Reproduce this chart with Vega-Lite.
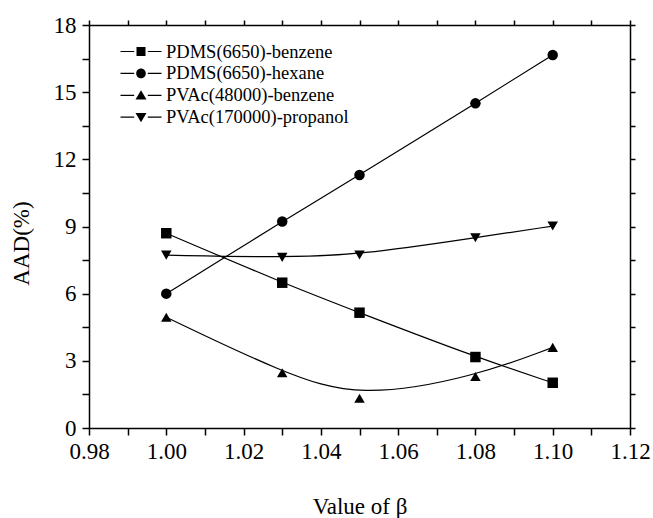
{
  "$schema": "https://vega.github.io/schema/vega-lite/v6.json",
  "autosize": {"type": "none"},
  "padding": {"left": 89, "top": 25, "right": 23, "bottom": 90},
  "width": 541,
  "height": 403,
  "config": {
    "view": {"stroke": null},
    "font": "Liberation Serif",
    "axis": {
      "grid": false,
      "domainColor": "black",
      "domainWidth": 1.5,
      "tickColor": "black",
      "tickWidth": 1.5,
      "labelColor": "black",
      "titleColor": "black",
      "labelFont": "Liberation Serif",
      "titleFont": "Liberation Serif",
      "labelFontSize": 23,
      "titleFontSize": 23,
      "titleFontWeight": "normal",
      "labelFlush": false,
      "labelOverlap": false
    },
    "legend": {
      "labelFont": "Liberation Serif",
      "labelFontSize": 18.5,
      "labelColor": "black",
      "labelLimit": 0
    }
  },
  "data": {
    "values": [
      {"series": "PDMS(6650)-benzene", "beta": 1.00, "aad": 8.70},
      {"series": "PDMS(6650)-benzene", "beta": 1.03, "aad": 6.49},
      {"series": "PDMS(6650)-benzene", "beta": 1.05, "aad": 5.15},
      {"series": "PDMS(6650)-benzene", "beta": 1.08, "aad": 3.17},
      {"series": "PDMS(6650)-benzene", "beta": 1.10, "aad": 2.02},
      {"series": "PDMS(6650)-hexane", "beta": 1.00, "aad": 6.00},
      {"series": "PDMS(6650)-hexane", "beta": 1.03, "aad": 9.22},
      {"series": "PDMS(6650)-hexane", "beta": 1.05, "aad": 11.30},
      {"series": "PDMS(6650)-hexane", "beta": 1.08, "aad": 14.50},
      {"series": "PDMS(6650)-hexane", "beta": 1.10, "aad": 16.66},
      {"series": "PVAc(48000)-benzene", "beta": 1.00, "aad": 4.95},
      {"series": "PVAc(48000)-benzene", "beta": 1.03, "aad": 2.47},
      {"series": "PVAc(48000)-benzene", "beta": 1.05, "aad": 1.33},
      {"series": "PVAc(48000)-benzene", "beta": 1.08, "aad": 2.30},
      {"series": "PVAc(48000)-benzene", "beta": 1.10, "aad": 3.60},
      {"series": "PVAc(170000)-propanol", "beta": 1.00, "aad": 7.72},
      {"series": "PVAc(170000)-propanol", "beta": 1.03, "aad": 7.62},
      {"series": "PVAc(170000)-propanol", "beta": 1.05, "aad": 7.73},
      {"series": "PVAc(170000)-propanol", "beta": 1.08, "aad": 8.50},
      {"series": "PVAc(170000)-propanol", "beta": 1.10, "aad": 9.02}
    ]
  },
  "resolve": {"axis": {"x": "independent", "y": "independent"}, "scale": {"shape": "independent"}},
  "layer": [
    {
      "mark": {"type": "line", "interpolate": "basis", "color": "black", "strokeWidth": 1.2},
      "encoding": {
        "x": {
          "field": "beta", "type": "quantitative",
          "scale": {"domain": [0.98, 1.12], "nice": false, "zero": false},
          "axis": {
            "orient": "bottom",
            "title": "Value of β",
            "titleBaseline": "alphabetic",
            "titleY": 85,
            "values": [0.98, 0.99, 1.0, 1.01, 1.02, 1.03, 1.04, 1.05, 1.06, 1.07, 1.08, 1.09, 1.1, 1.11, 1.12],
            "tickSize": 7,
            "labelPadding": 23,
            "labelBaseline": "alphabetic",
            "labelExpr": "round(datum.value*100) % 2 == 0 ? format(datum.value, '.2f') : ''",
            "encode": {"ticks": {"update": {"y2": {"signal": "round(datum.value*100) % 2 == 0 ? 7 : 4"}}}}
          }
        },
        "y": {
          "field": "aad", "type": "quantitative",
          "scale": {"domain": [0, 18], "nice": false},
          "axis": {
            "orient": "left",
            "title": "AAD(%)",
            "titleAngle": -90,
            "titleBaseline": "alphabetic",
            "titleX": -61,
            "titleY": 218,
            "values": [0, 1.5, 3, 4.5, 6, 7.5, 9, 10.5, 12, 13.5, 15, 16.5, 18],
            "tickSize": 7,
            "labelPadding": 6,
            "labelExpr": "datum.value % 3 == 0 ? format(datum.value, 'd') : ''",
            "encode": {"ticks": {"update": {"x2": {"signal": "datum.value % 3 == 0 ? -7 : -4"}}}}
          }
        },
        "detail": {"field": "series"}
      }
    },
    {
      "mark": {"type": "point", "filled": true, "color": "black", "opacity": 1, "size": 110},
      "encoding": {
        "x": {
          "field": "beta", "type": "quantitative",
          "axis": {
            "orient": "top", "title": null, "labels": false,
            "values": [0.98, 0.99, 1.0, 1.01, 1.02, 1.03, 1.04, 1.05, 1.06, 1.07, 1.08, 1.09, 1.1, 1.11, 1.12],
            "tickSize": 5,
            "encode": {"ticks": {"update": {"y2": {"value": 5}}}}
          }
        },
        "y": {
          "field": "aad", "type": "quantitative",
          "axis": {
            "orient": "right", "title": null, "labels": false,
            "values": [0, 1.5, 3, 4.5, 6, 7.5, 9, 10.5, 12, 13.5, 15, 16.5, 18],
            "tickSize": 5,
            "encode": {"ticks": {"update": {"x2": {"value": -5}}}}
          }
        },
        "shape": {
          "field": "series", "type": "nominal",
          "scale": {
            "domain": ["PDMS(6650)-benzene", "PDMS(6650)-hexane", "PVAc(48000)-benzene", "PVAc(170000)-propanol"],
            "range": ["square", "circle", "triangle-up", "triangle-down"]
          },
          "legend": null
        }
      }
    },
    {
      "mark": {"type": "point", "filled": true, "color": "black", "opacity": 0, "size": 400},
      "encoding": {
        "x": {"field": "beta", "type": "quantitative", "axis": null},
        "y": {"field": "aad", "type": "quantitative", "axis": null},
        "shape": {
          "field": "series", "type": "nominal",
          "scale": {
            "domain": ["PDMS(6650)-benzene", "PDMS(6650)-hexane", "PVAc(48000)-benzene", "PVAc(170000)-propanol"],
            "range": [
              "M-2.05,-0.06H-0.68V0.06H-2.05ZM0.68,-0.06H2.05V0.06H0.68ZM-0.45,-0.45H0.45V0.45H-0.45Z",
              "M-2.05,-0.06H-0.68V0.06H-2.05ZM0.68,-0.06H2.05V0.06H0.68ZM-0.48,0A0.48,0.48 0 1,0 0.48,0A0.48,0.48 0 1,0 -0.48,0Z",
              "M-2.05,-0.06H-0.68V0.06H-2.05ZM0.68,-0.06H2.05V0.06H0.68ZM0,-0.5L0.55,0.42L-0.55,0.42Z",
              "M-2.05,-0.06H-0.68V0.06H-2.05ZM0.68,-0.06H2.05V0.06H0.68ZM0,0.5L0.55,-0.42L-0.55,-0.42Z"
            ]
          },
          "legend": {
            "title": null,
            "orient": "none",
            "legendX": 41.5,
            "legendY": 16,
            "padding": 0,
            "symbolSize": 400,
            "labelOffset": 14.5,
            "rowPadding": 1.9,
            "symbolFillColor": "black",
            "symbolStrokeColor": "black",
            "symbolStrokeWidth": 0.6,
            "symbolOpacity": 1,
            "encode": {
              "symbols": {
                "update": {
                  "fill": {"value": "black"},
                  "stroke": {"value": "black"},
                  "strokeWidth": {"value": 0.6},
                  "opacity": {"value": 1}
                }
              }
            }
          }
        }
      }
    }
  ]
}
